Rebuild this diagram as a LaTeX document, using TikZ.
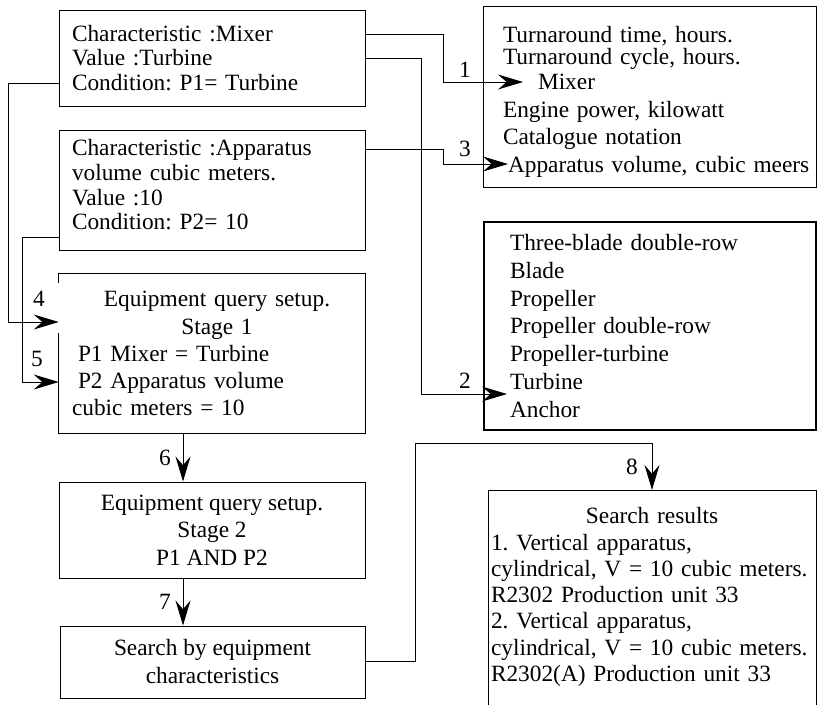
\documentclass[tikz,border=0pt]{standalone}
\usepackage{fontspec}
\setmainfont{Liberation Serif}
\usetikzlibrary{arrows.meta}
\newdimen\px \px=0.75pt
\frenchspacing
\begin{document}
\frenchspacing
\begin{tikzpicture}[x=0.75pt,y=-0.75pt,
  font=\fontsize{17.5}{20.5}\selectfont,
  box/.style={draw, line width=0.75pt, rectangle, inner sep=0pt},
  plainbox/.style={rectangle, inner sep=0pt},
  arr/.style={line width=0.75pt, -{Stealth[length=18.75pt,width=11.25pt,inset=6.5pt]}},
  lbl/.style={inner sep=0pt}]
\useasboundingbox (0,0) rectangle (817,704);
\clip (0,0) rectangle (817,704);

% left column
\node[box, minimum width=306\px, minimum height=96\px, text width=280\px, align=left,
  font=\fontsize{17.5}{18.4}\selectfont] (A) at (212,58)
  {\mbox{Characteristic :Mixer}\\\mbox{Value :Turbine}\\\mbox{Condition: P1= Turbine}};
\node[box, minimum width=306\px, minimum height=120\px] (B) at (212,190) {};
\node[plainbox, text width=280\px, align=left,
  font=\fontsize{17.5}{18.5}\selectfont] (Bt) at (212,185)
  {\mbox{Characteristic :Apparatus}\\\mbox{volume cubic meters.}\\\mbox{Value :10}\\\mbox{Condition: P2= 10}};
\node[plainbox, minimum width=306\px, minimum height=159\px, text width=280\px, align=left,
  font=\fontsize{17.5}{20.3}\selectfont] (C) at (212,353.5)
  {\makebox[280\px][c]{\hspace*{10\px}Equipment query setup.}\\
   \makebox[280\px][c]{\hspace*{10\px}Stage 1}\\
   \hspace*{6\px}\mbox{P1 Mixer = Turbine}\\
   \hspace*{6\px}\mbox{P2 Apparatus volume}\\
   \mbox{cubic meters = 10}};
\draw[line width=0.75pt] ([yshift=-9\px]C.north west) -- (C.north west) -- (C.north east)
  -- (C.south east) -- (C.south west) -- ([yshift=100\px]C.south west);
\node[box, minimum width=306\px, minimum height=96\px, align=center,
  font=\fontsize{17.5}{20.6}\selectfont] (D) at (212,530)
  {Equipment query setup.\\Stage 2\\P1 AND P2};
\node[box, minimum width=305\px, minimum height=72\px, align=center,
  font=\fontsize{17.5}{21}\selectfont] (E) at (212.5,662)
  {Search by equipment\\characteristics};

% right column
\node[box, minimum width=333\px, minimum height=181\px] (F) at (649.5,96.5) {};
\node[plainbox, text width=326\px, align=left,
  font=\fontsize{17.5}{20.25}\selectfont] (Ft) at (649.5,102)
  {\hspace*{16.5\px}\mbox{Turnaround time, hours.}\\[-5\px]
   \hspace*{16.5\px}\mbox{Turnaround cycle, hours.}\\[-2\px]
   \hspace*{51.5\px}\mbox{Mixer}\\[1\px]
   \hspace*{16.5\px}\mbox{Engine power, kilowatt}\\
   \hspace*{16.5\px}\mbox{Catalogue notation}\\[1\px]
   \hspace*{21.5\px}\mbox{Apparatus volume, cubic meers}};
\node[box, line width=1.5pt, minimum width=332\px, minimum height=208\px, text width=280\px, align=left,
  font=\fontsize{17.5}{20.85}\selectfont] (G) at (650,326)
  {\mbox{Three-blade double-row}\\\mbox{Blade}\\\mbox{Propeller}\\\mbox{Propeller double-row}\\
   \mbox{Propeller-turbine}\\\mbox{Turbine}\\\mbox{Anchor}};
\node[box, minimum width=328\px, minimum height=240\px, anchor=north] (H) at (652,490) {};
\node[plainbox, text width=325\px, align=left,
  font=\fontsize{17.5}{19.7}\selectfont] (Ht) at (653.5,597)
  {\makebox[325\px][c]{\hspace*{-3\px}Search results}\\
   \mbox{1. Vertical apparatus,}\\
   \mbox{cylindrical, V = 10 cubic meters.}\\
   \mbox{R2302 Production unit 33}\\
   \mbox{2. Vertical apparatus,}\\
   \mbox{cylindrical, V = 10 cubic meters.}\\
   \mbox{R2302(A) Production unit 33}};

% connectors
\coordinate (t1) at (523,82);
\coordinate (b1) at (443,34);
\draw[arr] (A.east |- b1) -- (b1) |- (t1);
\coordinate (t2) at (507,394);
\coordinate (b2) at (421,58);
\draw[arr] (A.east |- b2) -- (b2) |- (t2);
\coordinate (t3) at (508,164);
\coordinate (b3) at (443,149);
\draw[arr] (B.east |- b3) -- (b3) |- (t3);
\coordinate (b4) at (8,83);
\coordinate (e4) at (59,322);
\draw[arr] (A.west |- b4) -- (b4) |- (C.west |- e4);
\coordinate (b5) at (22,237);
\coordinate (e5) at (59,382);
\draw[arr] (B.west |- b5) -- (b5) |- (C.west |- e5);
\coordinate (x6) at (183,0);
\draw[arr] (C.south -| x6) -- (D.north -| x6);
\draw[arr] (D.south -| x6) -- (E.north -| x6);
\coordinate (b8) at (415,661);
\coordinate (c8) at (415,443);
\draw[arr] (E.east |- b8) -- (b8) -- (c8) -| (H.north);

% labels
\node[lbl] (l1) at (465,70) {1};
\node[lbl] (l2) at (465,381) {2};
\node[lbl] (l3) at (465,149) {3};
\node[lbl] (l4) at (39,299) {4};
\node[lbl] (l5) at (37,359) {5};
\node[lbl] (l6) at (165,458) {6};
\node[lbl] (l7) at (165,602) {7};
\node[lbl] (l8) at (632,467) {8};
\end{tikzpicture}
\end{document}
